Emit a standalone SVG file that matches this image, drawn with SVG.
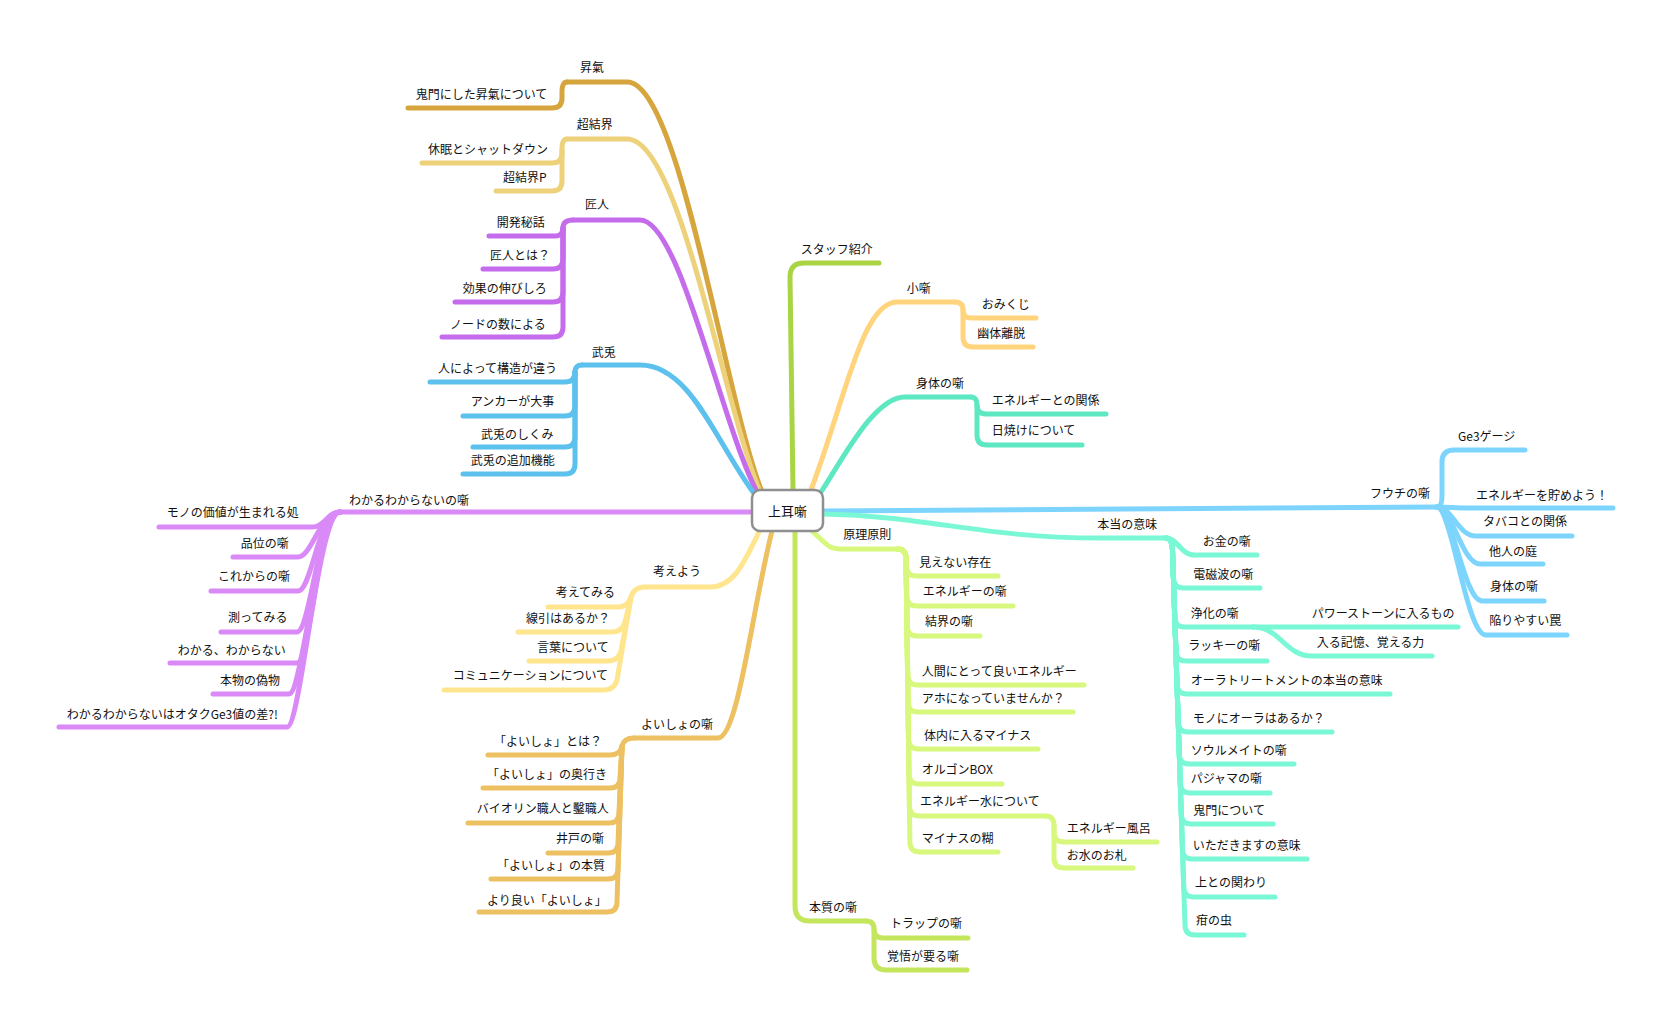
<svg xmlns="http://www.w3.org/2000/svg" width="1675" height="1029" viewBox="0 0 1675 1029">
<style>
path{fill:none;stroke-width:5;stroke-linecap:round;stroke-linejoin:round}
text{font-family:"Noto Sans CJK JP","Noto Sans",sans-serif;font-size:12px;fill:#111}
.c1{stroke:#D6A53E}.c2{stroke:#EDD27B}.c3{stroke:#C46CEB}.c4{stroke:#5CC1EC}
.c5{stroke:#D98AF7}.c6{stroke:#FFE68E}.c7{stroke:#EDC062}.c8{stroke:#C4E65D}
.c9{stroke:#A9D443}.c10{stroke:#FFD47D}.c11{stroke:#5DE8C2}.c12{stroke:#7DD5FD}
.c13{stroke:#7AF8D6}.c14{stroke:#D7F87C}
.root rect{fill:#fff;stroke:#8f8f8f;stroke-width:2.5}
.root text{font-size:13px}
</style>
<rect width="1675" height="1029" fill="#fff"/>
<g id="connectors">
<path class="c1" d="M762 492 C725 400 680 82 627 82 H567"/>
<path class="c1" d="M567 82 Q562 82 562 92 V98 Q562 108 552 108 H408"/>
<path class="c2" d="M760 492 C722 400 680 139 627 139 H567"/>
<path class="c2" d="M567 139 Q562 139 562 149 V153 Q562 163 552 163 H422"/>
<path class="c2" d="M562 150 V181 Q562 191 552 191 H496"/>
<path class="c3" d="M757 492 C720 420 680 220 640 220 H573"/>
<path class="c3" d="M573 220 Q563 220 563 228 Q563 236 555 236 H489"/>
<path class="c3" d="M563 228 V259 Q563 269 553 269 H483"/>
<path class="c3" d="M563 228 V292 Q563 302 553 302 H455"/>
<path class="c3" d="M563 228 V327 Q563 337 553 337 H442"/>
<path class="c4" d="M753 492 C715 440 690 365 640 365 H582"/>
<path class="c4" d="M582 365 Q575 365 575 372 Q575 382 565 382 H430"/>
<path class="c4" d="M575 372 V406 Q575 416 565 416 H463"/>
<path class="c4" d="M575 372 V437 Q575 447 565 447 H473"/>
<path class="c4" d="M575 372 V464 Q575 474 565 474 H463"/>
<path class="c5" d="M752 512 H340"/>
<path class="c5" d="M340 512 C328 512 324 527 313 527 H159"/>
<path class="c5" d="M340 512 C320 512 312 557 298 557 H233"/>
<path class="c5" d="M340 512 C318 512 312 591 298 591 H211"/>
<path class="c5" d="M340 512 C318 512 311 632 297 632 H221"/>
<path class="c5" d="M340 512 C318 512 311 663 297 663 H170"/>
<path class="c5" d="M340 512 C318 512 303 694 289 694 H213"/>
<path class="c5" d="M340 512 C318 512 301 727 287 727 H59"/>
<path class="c6" d="M760 530 C745 560 735 587 710 587 H645"/>
<path class="c6" d="M645 587 Q634 587 631 597 Q628 607 618 607 H548"/>
<path class="c6" d="M631 597 L625 622 Q622 632 612 632 H518"/>
<path class="c6" d="M631 597 L621 651 Q618 661 608 661 H529"/>
<path class="c6" d="M631 597 L617 680 Q614 690 604 690 H444"/>
<path class="c7" d="M772 531 C752 610 738 738 718 738 H634"/>
<path class="c7" d="M634 738 Q624 738 622 746 Q620 755 610 755 H488"/>
<path class="c7" d="M622 746 L620 778 Q620 788 610 788 H483"/>
<path class="c7" d="M622 746 L619 813 Q619 823 609 823 H468"/>
<path class="c7" d="M622 746 L618 843 Q618 853 608 853 H548"/>
<path class="c7" d="M622 746 L618 869 Q618 879 608 879 H491"/>
<path class="c7" d="M622 746 L617 902 Q617 912 607 912 H479"/>
<path class="c8" d="M795 531 V906 Q795 921 810 921 H866"/>
<path class="c8" d="M866 921 Q874 921 874 929 Q874 938 883 938 H968"/>
<path class="c8" d="M874 929 V958 Q874 970 886 970 H967"/>
<path class="c9" d="M793 490 L790 277 Q790 263 804 263 H879"/>
<path class="c10" d="M811 490 C845 400 862 302 897 302 H955"/>
<path class="c10" d="M955 302 Q963 302 963 310 Q963 318 971 318 H1036"/>
<path class="c10" d="M963 310 V337 Q963 347 973 347 H1033"/>
<path class="c11" d="M821 492 C845 455 875 397 905 397 H971"/>
<path class="c11" d="M971 397 Q977 397 977 405 Q977 414 986 414 H1106"/>
<path class="c11" d="M977 405 V435 Q977 445 987 445 H1082"/>
<path class="c12" d="M823 511 L1437 507"/>
<path class="c12" d="M1437 507 Q1442 507 1442 495 V462 Q1442 450 1454 450 H1525"/>
<path class="c12" d="M1437 507 C1450 507 1455 508 1470 508 H1613"/>
<path class="c12" d="M1437 507 C1452 507 1458 536 1476 536 H1572"/>
<path class="c12" d="M1437 507 C1452 507 1462 564 1480 564 H1543"/>
<path class="c12" d="M1437 507 C1452 507 1464 601 1482 601 H1544"/>
<path class="c12" d="M1437 507 C1452 507 1466 635 1486 635 H1567"/>
<path class="c13" d="M823 514 C930 516 980 538 1100 538 H1166"/>
<path class="c13" d="M1166 538 C1178 538 1180 555 1195 555 H1257"/>
<path class="c13" d="M1166 538 Q1172 538 1172.5 550 L1173.6 578 Q1173.6 588 1183.6 588 H1260"/>
<path class="c13" d="M1166 538 Q1172 538 1172.5 550 L1174.6 617 Q1174.6 627 1184.6 627 H1253"/>
<path class="c13" d="M1253 627 H1458"/>
<path class="c13" d="M1253 627 C1280 627 1285 656 1312 656 H1432"/>
<path class="c13" d="M1166 538 Q1172 538 1172.5 550 L1176 651 Q1176 661 1186 661 H1267"/>
<path class="c13" d="M1166 538 Q1172 538 1172.5 550 L1177 684 Q1177 694 1187 694 H1390"/>
<path class="c13" d="M1166 538 Q1172 538 1172.5 550 L1178.3 722 Q1178.3 732 1188.3 732 H1332"/>
<path class="c13" d="M1166 538 Q1172 538 1172.5 550 L1179.3 754 Q1179.3 764 1189.3 764 H1294"/>
<path class="c13" d="M1166 538 Q1172 538 1172.5 550 L1180.3 783 Q1180.3 793 1190.3 793 H1270"/>
<path class="c13" d="M1166 538 Q1172 538 1172.5 550 L1181.3 814 Q1181.3 824 1191.3 824 H1273"/>
<path class="c13" d="M1166 538 Q1172 538 1172.5 550 L1182.4 849 Q1182.4 859 1192.4 859 H1307"/>
<path class="c13" d="M1166 538 Q1172 538 1172.5 550 L1183.7 887 Q1183.7 897 1193.7 897 H1275"/>
<path class="c13" d="M1166 538 Q1172 538 1172.5 550 L1185 925 Q1185 935 1195 935 H1244"/>
<path class="c14" d="M812 531 L825 543 Q831 549 840 549 H898"/>
<path class="c14" d="M898 549 Q906 549 906 559 L906.4 566 Q906.4 576 916.4 576 H998"/>
<path class="c14" d="M898 549 Q906 549 906 559 L906.8 596 Q906.8 606 916.8 606 H1013"/>
<path class="c14" d="M898 549 Q906 549 906 559 L907.2 626 Q907.2 636 917.2 636 H980"/>
<path class="c14" d="M898 549 Q906 549 906 559 L907.8 675 Q907.8 685 917.8 685 H1084"/>
<path class="c14" d="M898 549 Q906 549 906 559 L908 702 Q908 712 918 712 H1073"/>
<path class="c14" d="M898 549 Q906 549 906 559 L908.5 739 Q908.5 749 918.5 749 H1038"/>
<path class="c14" d="M898 549 Q906 549 906 559 L909 774 Q909 784 919 784 H1002"/>
<path class="c14" d="M898 549 Q906 549 906 559 L909.4 806 Q909.4 816 919.4 816 H1046"/>
<path class="c14" d="M898 549 Q906 549 906 559 L909.9 842 Q909.9 852 919.9 852 H998"/>
<path class="c14" d="M1046 816 Q1054 816 1054 826 V832 Q1054 842 1064 842 H1157"/>
<path class="c14" d="M1054 826 V858 Q1054 868 1064 868 H1133"/>
</g>
<g id="n-root" class="root"><rect x="752" y="490" width="71" height="41" rx="8"/><text x="787.5" y="516" text-anchor="middle">上耳噺</text></g>
<g id="n-shoki"><text x="580" y="72">昇氣</text></g>
<g id="n-kimon-shoki"><text x="415.7" y="98.5">鬼門にした昇氣について</text></g>
<g id="n-chokekkai"><text x="576.7" y="128.5">超結界</text></g>
<g id="n-kyumin"><text x="428" y="153.5">休眠とシャットダウン</text></g>
<g id="n-chokekkai-p"><text x="503" y="181.5">超結界P</text></g>
<g id="n-takumi"><text x="585" y="208.5">匠人</text></g>
<g id="n-kaihatsu"><text x="496.7" y="226.5">開発秘話</text></g>
<g id="n-takumi-towa"><text x="490" y="259.5">匠人とは？</text></g>
<g id="n-koka"><text x="462.7" y="292.5">効果の伸びしろ</text></g>
<g id="n-node-kazu"><text x="450" y="328.5">ノードの数による</text></g>
<g id="n-buto"><text x="591.7" y="357">武兎</text></g>
<g id="n-hito"><text x="438" y="372.5">人によって構造が違う</text></g>
<g id="n-anchor"><text x="470.7" y="406">アンカーが大事</text></g>
<g id="n-shikumi"><text x="481" y="438.5">武兎のしくみ</text></g>
<g id="n-tsuika"><text x="470.7" y="464.5">武兎の追加機能</text></g>
<g id="n-wakaru"><text x="349" y="504.5">わかるわからないの噺</text></g>
<g id="n-mono-kachi"><text x="166.7" y="517">モノの価値が生まれる処</text></g>
<g id="n-hini"><text x="240.7" y="548">品位の噺</text></g>
<g id="n-korekara"><text x="218" y="581">これからの噺</text></g>
<g id="n-hakatte"><text x="228" y="622">測ってみる</text></g>
<g id="n-wakaru2"><text x="177.7" y="654.5">わかる、わからない</text></g>
<g id="n-honmono"><text x="220" y="685">本物の偽物</text></g>
<g id="n-otaku"><text x="66.7" y="718.5">わかるわからないはオタクGe3値の差?!</text></g>
<g id="n-kangaeyou"><text x="653" y="576">考えよう</text></g>
<g id="n-kangaetemiru"><text x="555.7" y="597">考えてみる</text></g>
<g id="n-senbiki"><text x="526" y="623">線引はあるか？</text></g>
<g id="n-kotoba"><text x="537" y="652">言葉について</text></g>
<g id="n-comm"><text x="452.7" y="680">コミュニケーションについて</text></g>
<g id="n-yoisho"><text x="641" y="728.5">よいしょの噺</text></g>
<g id="n-yoisho1"><text x="494" y="746">「よいしょ」とは？</text></g>
<g id="n-yoisho2"><text x="487" y="778.5">「よいしょ」の奥行き</text></g>
<g id="n-violin"><text x="476.7" y="813">バイオリン職人と鑿職人</text></g>
<g id="n-ido"><text x="556" y="843">井戸の噺</text></g>
<g id="n-yoisho3"><text x="497" y="870">「よいしょ」の本質</text></g>
<g id="n-yoisho4"><text x="487" y="905">より良い「よいしょ」</text></g>
<g id="n-honshitsu"><text x="809" y="912">本質の噺</text></g>
<g id="n-trap"><text x="890" y="928">トラップの噺</text></g>
<g id="n-kakugo"><text x="887" y="961">覚悟が要る噺</text></g>
<g id="n-staff"><text x="800.7" y="254">スタッフ紹介</text></g>
<g id="n-kobanashi"><text x="906.7" y="293">小噺</text></g>
<g id="n-omikuji"><text x="981.7" y="308.5">おみくじ</text></g>
<g id="n-yutai"><text x="977.3" y="338">幽体離脱</text></g>
<g id="n-shintai"><text x="916" y="388">身体の噺</text></g>
<g id="n-energy-kankei"><text x="991.7" y="404.5">エネルギーとの関係</text></g>
<g id="n-hiyake"><text x="991.7" y="434.5">日焼けについて</text></g>
<g id="n-fuchi"><text x="1370" y="498">フウチの噺</text></g>
<g id="n-ge3"><text x="1458" y="440.5">Ge3ゲージ</text></g>
<g id="n-tameyou"><text x="1476" y="499.5">エネルギーを貯めよう！</text></g>
<g id="n-tabako"><text x="1483" y="526">タバコとの関係</text></g>
<g id="n-tanin"><text x="1489" y="555.5">他人の庭</text></g>
<g id="n-shintai2"><text x="1490" y="590.5">身体の噺</text></g>
<g id="n-wana"><text x="1489.3" y="625">陥りやすい罠</text></g>
<g id="n-honto"><text x="1097.3" y="528.5">本当の意味</text></g>
<g id="n-okane"><text x="1202.7" y="546">お金の噺</text></g>
<g id="n-denjiha"><text x="1193.3" y="578.5">電磁波の噺</text></g>
<g id="n-joka"><text x="1190.7" y="618">浄化の噺</text></g>
<g id="n-power"><text x="1311.7" y="618">パワーストーンに入るもの</text></g>
<g id="n-kioku"><text x="1316.7" y="647">入る記憶、覚える力</text></g>
<g id="n-lucky"><text x="1188.3" y="650">ラッキーの噺</text></g>
<g id="n-aura"><text x="1190.7" y="685">オーラトリートメントの本当の意味</text></g>
<g id="n-mono-aura"><text x="1192.7" y="723">モノにオーラはあるか？</text></g>
<g id="n-soul"><text x="1190.7" y="754.5">ソウルメイトの噺</text></g>
<g id="n-pajama"><text x="1190.7" y="783">パジャマの噺</text></g>
<g id="n-kimon"><text x="1193.3" y="814.5">鬼門について</text></g>
<g id="n-itadakimasu"><text x="1192.7" y="849.5">いただきますの意味</text></g>
<g id="n-ue"><text x="1195" y="887">上との関わり</text></g>
<g id="n-kan"><text x="1196" y="925">疳の虫</text></g>
<g id="n-genri"><text x="843.3" y="539">原理原則</text></g>
<g id="n-mienai"><text x="919.3" y="567">見えない存在</text></g>
<g id="n-energy-hanashi"><text x="922.7" y="596">エネルギーの噺</text></g>
<g id="n-kekkai"><text x="925" y="625.5">結界の噺</text></g>
<g id="n-ningen"><text x="921.7" y="675.5">人間にとって良いエネルギー</text></g>
<g id="n-aho"><text x="921.7" y="703">アホになっていませんか？</text></g>
<g id="n-tainai"><text x="924" y="739.5">体内に入るマイナス</text></g>
<g id="n-orgon"><text x="921.7" y="773.5">オルゴンBOX</text></g>
<g id="n-energy-water"><text x="920" y="806">エネルギー水について</text></g>
<g id="n-furo"><text x="1066.7" y="833">エネルギー風呂</text></g>
<g id="n-ofuda"><text x="1066.7" y="859.5">お水のお札</text></g>
<g id="n-nori"><text x="921.7" y="843">マイナスの糊</text></g>
</svg>
